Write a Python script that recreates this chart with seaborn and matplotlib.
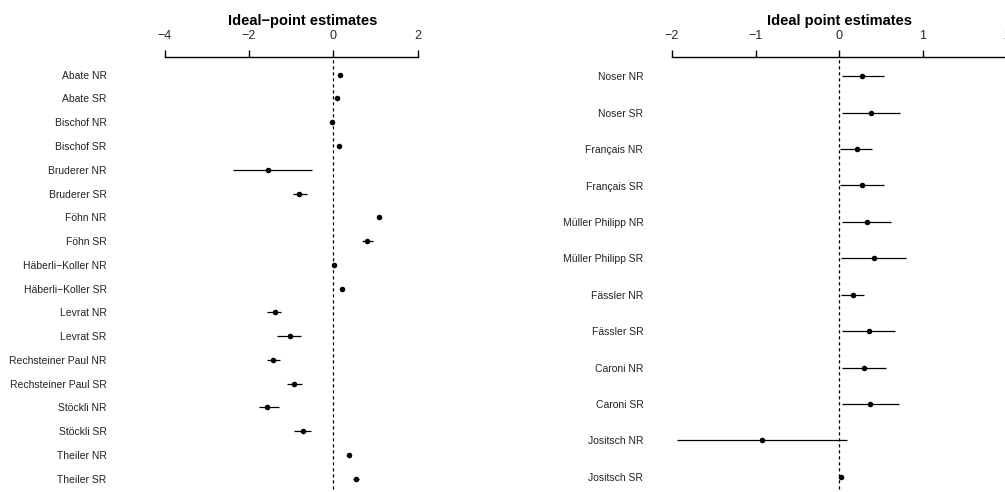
import matplotlib
matplotlib.use("Agg")
import matplotlib.pyplot as plt
import seaborn as sns
import numpy as np
import pandas as pd

# Left panel: ideal-point estimates with intervals
left_labels = ["Abate NR", "Abate SR", "Bischof NR", "Bischof SR",
               "Bruderer NR", "Bruderer SR", "Föhn NR", "Föhn SR",
               "Häberli\u2212Koller NR", "Häberli\u2212Koller SR",
               "Levrat NR", "Levrat SR", "Rechsteiner Paul NR",
               "Rechsteiner Paul SR", "Stöckli NR", "Stöckli SR",
               "Theiler NR", "Theiler SR"]
left_est = [0.17, 0.08, -0.04, 0.13, -1.54, -0.81, 1.08, 0.81, 0.02, 0.20,
            -1.39, -1.03, -1.42, -0.92, -1.56, -0.72, 0.37, 0.53]
left_lo = [0.13, 0.04, -0.08, 0.10, -2.37, -0.96, 1.03, 0.67, -0.01, 0.16,
           -1.56, -1.34, -1.56, -1.09, -1.75, -0.92, 0.32, 0.46]
left_hi = [0.21, 0.12, 0.00, 0.16, -0.51, -0.63, 1.13, 0.95, 0.05, 0.24,
           -1.24, -0.77, -1.27, -0.75, -1.29, -0.52, 0.42, 0.60]

# Right panel
right_labels = ["Noser NR", "Noser SR", "Français NR", "Français SR",
                "Müller Philipp NR", "Müller Philipp SR", "Fässler NR",
                "Fässler SR", "Caroni NR", "Caroni SR", "Jositsch NR",
                "Jositsch SR"]
right_est = [0.275, 0.375, 0.21, 0.275, 0.33, 0.41, 0.16, 0.35, 0.295, 0.37,
             -0.92, 0.02]
right_lo = [0.03, 0.03, 0.01, 0.01, 0.03, 0.02, 0.02, 0.03, 0.03, 0.03,
            -1.94, 0.00]
right_hi = [0.53, 0.72, 0.39, 0.53, 0.62, 0.80, 0.30, 0.66, 0.56, 0.71,
            0.09, 0.04]

left_ticks = [-4, -2, 0, 2]
right_ticks = [-2, -1, 0, 1, 2]

sns.set_theme(style="white")
plt.rcParams["font.family"] = ["Liberation Sans", "DejaVu Sans"]

W, H = 1005, 492
fig = plt.figure(figsize=(W / 100, H / 100), dpi=100)


def px_axes(x0, x1, y0, y1):
    # axes from pixel box (y measured from top)
    return fig.add_axes([x0 / W, 1 - y1 / H, (x1 - x0) / W, (y1 - y0) / H])


def panel(ax, labels, est, lo, hi, ticks, zero_px, unit_px, x0, x1,
          top_px, first_row_px, row_step, title, title_px, label_right_px):
    df = pd.DataFrame({"label": labels, "est": est, "lo": lo, "hi": hi,
                       "row": np.arange(len(labels))})
    ax.hlines(df["row"], df["lo"], df["hi"], color="black", lw=0.9, zorder=2)
    sns.scatterplot(data=df, x="est", y="row", ax=ax, color="black", s=16,
                    edgecolor="black", linewidth=0, zorder=3, legend=False)
    ax.axvline(0, ymin=0.006, ymax=1, color="black", lw=0.9,
               ls=(0, (2.6, 2.2)), zorder=1)
    ax.set_xlim((x0 - zero_px) / unit_px, (x1 - zero_px) / unit_px)
    top = -(first_row_px - top_px) / row_step
    bottom = (H - first_row_px) / row_step
    ax.set_ylim(bottom, top)
    ax.set_xlabel("")
    ax.set_ylabel("")
    for s in ["left", "right", "bottom"]:
        ax.spines[s].set_visible(False)
    ax.spines["top"].set_visible(True)
    ax.spines["top"].set_color("black")
    ax.spines["top"].set_linewidth(1.0)
    ax.spines["top"].set_bounds(ticks[0], ticks[-1])
    ax.xaxis.set_ticks_position("top")
    ax.xaxis.set_label_position("top")
    ax.set_xticks(ticks)
    ax.set_xticklabels([str(t).replace("-", "\u2212") for t in ticks])
    ax.tick_params(axis="x", direction="out", length=5.2, width=1.0,
                   color="black", labelsize=9, pad=5.5, top=True,
                   bottom=False, labeltop=True, labelbottom=False)
    ax.set_yticks(df["row"])
    pad_pt = (x0 - label_right_px) * 72 / 100
    ax.set_yticklabels(labels)
    ax.tick_params(axis="y", length=0, labelsize=7.5, pad=pad_pt,
                   labelcolor="#222222")
    ax.set_facecolor("white")
    ax.grid(False)
    fig.text(title_px / W, 1 - 20.5 / H, title, ha="center", va="center",
             fontsize=10.5, fontweight="bold", color="black")


ax1 = px_axes(150, 430, 57, H)
panel(ax1, left_labels, left_est, left_lo, left_hi, left_ticks,
      zero_px=333.3, unit_px=42.2, x0=150, x1=430, top_px=57,
      first_row_px=74.7, row_step=23.76,
      title="Ideal\u2212point estimates", title_px=302.3,
      label_right_px=106.7)

ax2 = px_axes(660, 1030, 57, H)
panel(ax2, right_labels, right_est, right_lo, right_hi, right_ticks,
      zero_px=839.3, unit_px=83.7, x0=660, x1=1030, top_px=57,
      first_row_px=76.3, row_step=36.4,
      title="Ideal point estimates", title_px=839.8,
      label_right_px=643.3)

fig.savefig("out.png", dpi=100, facecolor="white")
